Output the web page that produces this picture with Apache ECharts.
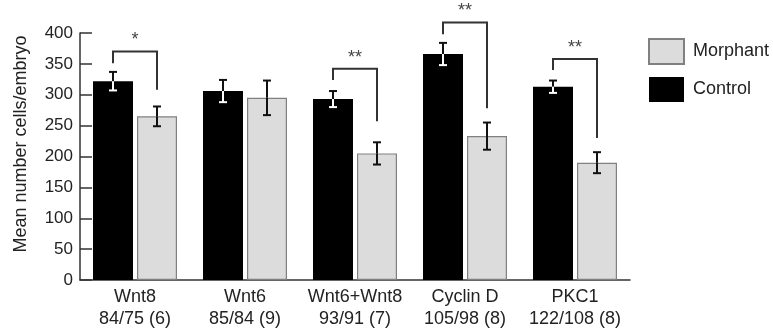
<!DOCTYPE html>
<html><head><meta charset="utf-8">
<script src="https://cdn.jsdelivr.net/npm/echarts@6/dist/echarts.min.js"></script>
<style>html,body{margin:0;padding:0;background:#fff}#c{width:773px;height:330px}</style>
</head><body><div id="c"></div>
<script>
const categories = ['Wnt8', 'Wnt6', 'Wnt6+Wnt8', 'Cyclin D', 'PKC1'];
const sampleLabels = ['84/75 (6)', '85/84 (9)', '93/91 (7)', '105/98 (8)', '122/108 (8)'];
const controlMeans = [322, 306, 293, 366, 313];
const controlErr = [15, 18, 13, 18, 10];
const morphantMeans = [265, 295, 205, 233, 190];
const morphantErr = [16, 28, 18, 22, 17];
const sigCategory = [0, 2, 3, 4];
const sigTop = [370, 342, 417, 358];
const sigLeftEnd = [351, 324, 398, 340];
const sigRightEnd = [308, 257, 278, 230];
const sigMarks = ['*', '**', '**', '**'];
const yTicks = [0, 50, 100, 150, 200, 250, 300, 350, 400];

const BAR_W = 40, BAR_GAP = 4;
const half = (BAR_W + BAR_GAP) / 2;
const FONT = 'Liberation Sans, Arial, Helvetica, sans-serif';

function errItem(offset, split) {
  return function (params, api) {
    const c = api.value(0), mean = api.value(1), err = api.value(2);
    const p = api.coord([c, mean]);
    const x = p[0] + offset;
    const hi = api.coord([c, mean + err])[1];
    const lo = api.coord([c, mean - err])[1];
    const m = p[1];
    const cap = 4;
    const upC = '#111', lowC = split ? '#ffffff' : '#111';
    const st = (col) => ({ stroke: col, lineWidth: 2 });
    return { type: 'group', children: [
      { type: 'line', shape: { x1: x, y1: hi, x2: x, y2: m }, style: st(upC) },
      { type: 'line', shape: { x1: x, y1: m, x2: x, y2: lo }, style: st(lowC) },
      { type: 'line', shape: { x1: x - cap, y1: hi, x2: x + cap, y2: hi }, style: st(upC) },
      { type: 'line', shape: { x1: x - cap, y1: lo, x2: x + cap, y2: lo }, style: st(lowC) }
    ]};
  };
}

const chart = echarts.init(document.getElementById('c'));
chart.setOption({
  animation: false,
  backgroundColor: '#fff',
  grid: { left: 80, top: 33, width: 550, height: 247 },
  legend: {
    data: ['Morphant', 'Control'],
    orient: 'vertical', left: 643, top: 33,
    itemWidth: 35, itemHeight: 25, itemGap: 12,
    icon: 'rect',
    textStyle: { fontFamily: FONT, fontSize: 18, color: '#222', padding: [0, 0, 0, 4] }
  },
  xAxis: {
    type: 'category', data: categories.map((c, i) => c + '\n' + sampleLabels[i]),
    axisLine: { lineStyle: { color: '#333', width: 1.5 } },
    axisTick: { inside: true, length: 5, lineStyle: { color: '#333', width: 1.5 } },
    axisLabel: { interval: 0, fontFamily: FONT, fontSize: 18, color: '#222', lineHeight: 22, margin: 6 }
  },
  yAxis: {
    type: 'value', min: 0, max: 400, interval: 50,
    axisLine: { show: true, lineStyle: { color: '#333', width: 1.5 } },
    axisTick: { show: true, inside: true, length: 12, lineStyle: { color: '#333', width: 1.5 } },
    splitLine: { show: false },
    axisLabel: { fontFamily: FONT, fontSize: 17, color: '#222', margin: 7,
      formatter: (v) => yTicks.includes(v) ? String(v) : '' }
  },
  graphic: [{
    type: 'text', x: 21, y: 144, rotation: Math.PI / 2,
    style: { text: 'Mean number cells/embryo', fontFamily: FONT, fontSize: 18, fill: '#222',
      align: 'center', verticalAlign: 'middle' }
  }],
  series: [
    { name: 'Control', type: 'bar', data: controlMeans, barWidth: BAR_W, barGap: '10%',
      itemStyle: { color: '#000' } },
    { name: 'Morphant', type: 'bar', data: morphantMeans, barWidth: BAR_W,
      itemStyle: { color: '#dcdcdc', borderColor: '#808080', borderWidth: 1.2 } },
    { type: 'custom', name: 'ctrlErr', z: 5,
      data: controlMeans.map((v, i) => [i, v, controlErr[i]]),
      renderItem: errItem(-half, true) },
    { type: 'custom', name: 'morphErr', z: 5,
      data: morphantMeans.map((v, i) => [i, v, morphantErr[i]]),
      renderItem: errItem(half, false) },
    { type: 'custom', name: 'sig', z: 6, clip: false,
      data: sigCategory.map((c, i) => [c, sigTop[i], sigLeftEnd[i], sigRightEnd[i], sigMarks[i]]),
      renderItem: function (params, api) {
        const c = api.value(0);
        const top = api.coord([c, api.value(1)]);
        const yl = api.coord([c, api.value(2)])[1];
        const yr = api.coord([c, api.value(3)])[1];
        const xl = top[0] - half, xr = top[0] + half;
        return { type: 'group', children: [
          { type: 'polyline', shape: { points: [[xl, yl], [xl, top[1]], [xr, top[1]], [xr, yr]] },
            style: { stroke: '#333', lineWidth: 2, fill: null } },
          { type: 'text', x: top[0], y: top[1] - 2,
            style: { text: sigMarks[params.dataIndex], fontFamily: FONT, fontSize: 18, fill: '#444',
              align: 'center', verticalAlign: 'bottom' } }
        ]};
      } }
  ]
});
</script></body></html>
